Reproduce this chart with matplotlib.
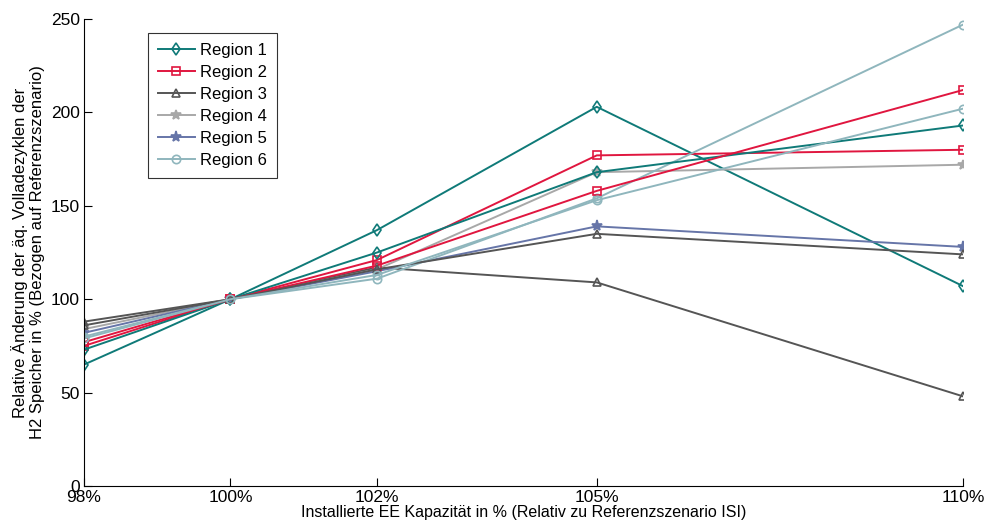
import matplotlib
matplotlib.use("Agg")
import matplotlib.pyplot as plt

plt.rcParams['font.family'] = ['Liberation Sans', 'DejaVu Sans']

x_values = [98, 100, 102, 105, 110]
x_labels = ['98%', '100%', '102%', '105%', '110%']

region1_a = [65, 100, 137, 203, 107]
region1_b = [73, 100, 125, 168, 193]
region2_a = [75, 100, 121, 177, 180]
region2_b = [77, 100, 118, 158, 212]
region3_a = [88, 100, 117, 109, 48]
region3_b = [86, 100, 116, 135, 124]
region4 = [84, 100, 116, 168, 172]
region5 = [82, 100, 115, 139, 128]
region6_a = [80, 100, 111, 154, 247]
region6_b = [79, 100, 113, 153, 202]

labels = ['Region 1', 'Region 2', 'Region 3', 'Region 4', 'Region 5', 'Region 6']
colors = ['#0f7a78', '#e0163f', '#555555', '#a8a8a8', '#6675a8', '#8fb6bd']

fig = plt.figure(figsize=(9.87, 5.24), dpi=100)
ax = fig.add_axes([0.0851, 0.0725, 0.8906, 0.8912])

def draw(vals, i, marker, filled, label=None, ms=6):
    c = colors[i]
    ax.plot(x_values, vals, color=c, lw=1.4, marker=marker, ms=ms,
            markerfacecolor=c if filled else 'none', markeredgecolor=c,
            markeredgewidth=1.2, label=label)

draw(region1_a, 0, 'd', False, labels[0])
draw(region2_a, 1, 's', False, labels[1])
draw(region3_a, 2, '^', False, labels[2])
draw(region4, 3, '*', True, labels[3], ms=7)
draw(region5, 4, '*', True, labels[4], ms=8)
draw(region6_a, 5, 'o', False, labels[5])
draw(region1_b, 0, 'd', False)
draw(region2_b, 1, 's', False)
draw(region3_b, 2, '^', False)
draw(region6_b, 5, 'o', False)

ax.set_xlim(98, 110)
ax.set_ylim(0, 250)
ax.set_xticks(x_values)
ax.set_xticklabels(x_labels)
ax.set_yticks([0, 50, 100, 150, 200, 250])
ax.tick_params(direction='in', length=6, labelsize=12.5, pad=3)
ax.spines['top'].set_visible(False)
ax.spines['right'].set_visible(False)
ax.set_xlabel('Installierte EE Kapazität in % (Relativ zu Referenzszenario ISI)', fontsize=11.5, labelpad=0)
ax.set_ylabel('Relative Änderung der äq. Volladezyklen der\nH2 Speicher in % (Bezogen auf Referenzszenario)', fontsize=12, labelpad=4)

leg = ax.legend(loc='upper left', bbox_to_anchor=(0.073, 0.97), borderaxespad=0, fontsize=12, frameon=True,
                fancybox=False, edgecolor='black', handlelength=2.2, borderpad=0.6,
                labelspacing=0.42, handletextpad=0.3)
leg.get_frame().set_linewidth(0.8)

fig.savefig('out.png', dpi=100)
